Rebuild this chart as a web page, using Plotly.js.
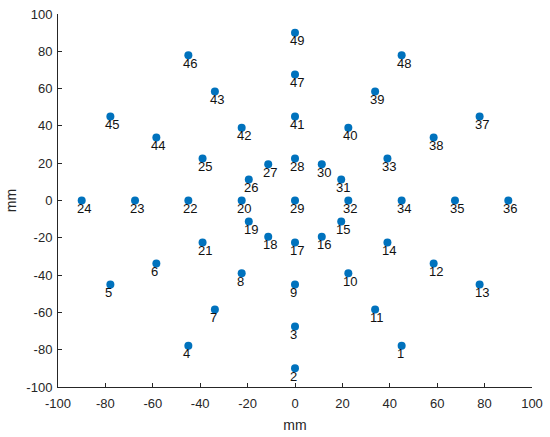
<!DOCTYPE html>
<html>
<head>
<meta charset="utf-8">
<script src="https://cdn.plot.ly/plotly-3.0.1.min.js"></script>
<style>html,body{margin:0;padding:0;background:#fff;}#chart{width:550px;height:437px;}</style>
</head>
<body>
<div id="chart"></div>
<script>
const labels = ['1','2','3','4','5','6','7','8','9','10','11','12','13','14','15','16','17','18','19','20','21','22','23','24','25','26','27','28','29','30','31','32','33','34','35','36','37','38','39','40','41','42','43','44','45','46','47','48','49'];
const xs = [45, 0, 0, -45, -77.9, -58.5, -33.8, -22.5, 0, 22.5, 33.8, 58.5, 77.9, 39, 19.5, 11.3, 0, -11.3, -19.5, -22.5, -39, -45, -67.5, -90, -39, -19.5, -11.3, 0, 0, 11.3, 19.5, 22.5, 39, 45, 67.5, 90, 77.9, 58.5, 33.8, 22.5, 0, -22.5, -33.8, -58.5, -77.9, -45, 0, 45, 0];
const ys = [-77.9, -90, -67.5, -77.9, -45, -33.8, -58.5, -39, -45, -39, -58.5, -33.8, -45, -22.5, -11.3, -19.5, -22.5, -19.5, -11.3, 0, -22.5, 0, 0, 0, 22.5, 11.3, 19.5, 22.5, 0, 19.5, 11.3, 0, 22.5, 0, 0, 0, 45, 33.8, 58.5, 39, 45, 39, 58.5, 33.8, 45, 77.9, 67.5, 77.9, 90];
const xTicks = [-100, -80, -60, -40, -20, 0, 20, 40, 60, 80, 100];
const yTicks = [-100, -80, -60, -40, -20, 0, 20, 40, 60, 80, 100];

const trace = {
  x: xs, y: ys, mode: 'markers', type: 'scatter',
  marker: {color: '#0072BD', size: 8},
  hoverinfo: 'skip'
};
const annotations = labels.map((t, i) => ({
  x: xs[i], y: ys[i], text: t, showarrow: false,
  xanchor: 'left', yanchor: 'middle', xshift: -7, yshift: -8,
  font: {family: 'Liberation Sans, Arial, sans-serif', size: 13, color: '#111111'}
}));
const axisCommon = {
  showgrid: false, zeroline: false, showline: true, linecolor: '#262626', linewidth: 1,
  ticks: 'inside', ticklen: 4, tickcolor: '#262626', mirror: false,
  tickfont: {family: 'Liberation Sans, Arial, sans-serif', size: 13, color: '#262626'}
};
const layout = {
  width: 550, height: 437,
  margin: {l: 58, r: 18, t: 14, b: 50},
  paper_bgcolor: '#fff', plot_bgcolor: '#fff',
  showlegend: false,
  xaxis: Object.assign({}, axisCommon, {range: [-100, 100], tickvals: xTicks, ticktext: xTicks.map(String),
    ticklabelstandoff: 4,
    title: {text: 'mm', font: {family: 'Liberation Sans, Arial, sans-serif', size: 14, color: '#262626'}, standoff: 10}}),
  yaxis: Object.assign({}, axisCommon, {range: [-100, 100], tickvals: yTicks, ticktext: yTicks.map(String),
    ticklabelstandoff: 2,
    title: {text: 'mm', font: {family: 'Liberation Sans, Arial, sans-serif', size: 14, color: '#262626'}, standoff: 6}}),
  annotations: annotations
};
Plotly.newPlot('chart', [trace], layout, {staticPlot: true, displayModeBar: false});
</script>
</body>
</html>
